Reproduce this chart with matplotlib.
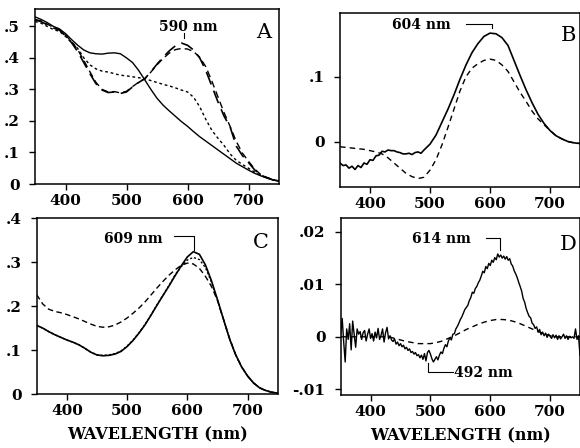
import numpy as np
import matplotlib
matplotlib.use("Agg")
import matplotlib.pyplot as plt

# ---------------- data ----------------
wl10 = list(range(350, 751, 10))

# Panel A
a_solid = [.530, .522, .512, .500, .492, .477, .458, .440, .425, .416, .413, .412, .415, .416, .413,
           .400, .385, .360, .330, .300, .272, .250, .232, .215, .198, .183, .166, .150, .136, .122,
           .108, .094, .080, .066, .055, .044, .034, .026, .019, .013, .008]
a_dot = [.515, .510, .500, .490, .484, .468, .450, .430, .400, .378, .365, .358, .355, .350, .345,
         .343, .340, .337, .334, .328, .322, .316, .311, .305, .298, .292, .275, .245, .205, .170,
         .145, .122, .095, .075, .062, .050, .038, .028, .020, .013, .010]
a_long = [.520, .515, .505, .495, .488, .470, .448, .420, .385, .350, .318, .298, .290, .292, .287,
          .292, .308, .322, .334, .356, .380, .402, .422, .438, .447, .440, .425, .400, .360, .310,
          .260, .215, .180, .120, .090, .068, .045, .028, .020, .013, .010]
a_med = [.522, .517, .507, .497, .489, .472, .452, .426, .392, .356, .322, .300, .292, .293, .289,
         .294, .309, .323, .334, .355, .378, .398, .415, .426, .430, .428, .420, .402, .372, .326,
         .276, .226, .182, .135, .098, .072, .048, .030, .021, .014, .010]

# Panel B
b_wl = [350, 355, 360, 365, 370, 375, 380, 385, 390, 395, 400, 405, 410, 415, 420, 425, 430, 435,
        440, 445, 450, 455, 460, 465, 470, 475, 480, 485, 490, 500, 510, 520, 530, 540, 550, 560,
        570, 580, 590, 600, 610, 620, 630, 640, 650, 660, 670, 680, 690, 700, 710, 720, 730, 740, 750]
b_solid = [-.033, -.037, -.036, -.041, -.038, -.043, -.037, -.040, -.033, -.035, -.028, -.029, -.022,
           -.021, -.015, -.016, -.013, -.014, -.014, -.016, -.017, -.019, -.019, -.018, -.020, -.017,
           -.016, -.018, -.013, -.004, .010, .030, .050, .072, .096, .118, .137, .151, .162, .167,
           .166, .160, .148, .125, .102, .080, .060, .042, .028, .017, .009, .004, .000, -.002, -.003]
b_dash = [-.008, -.009, -.010, -.011, -.012, -.014, -.016, -.019, -.025, -.033, -.041, -.049, -.054,
          -.057, -.055, -.044, -.028, -.005, .022, .050, .078, .100, .113, .120, .125, .127, .125,
          .118, .108, .092, .076, .062, .047, .035, .026, .017, .009, .004, .000, -.002, -.003]

# Panel C
c_solid = [.156, .150, .142, .135, .129, .123, .118, .112, .104, .095, .089, .087, .088, .091, .097,
           .108, .122, .139, .158, .180, .203, .225, .247, .270, .292, .312, .324, .318, .294, .258,
           .215, .170, .126, .090, .062, .041, .025, .014, .008, .004, .002]
c_dot = [.156, .150, .142, .135, .129, .123, .118, .112, .104, .095, .089, .088, .089, .092, .098,
         .109, .123, .140, .159, .181, .204, .226, .248, .272, .290, .305, .311, .306, .288, .255,
         .214, .170, .126, .090, .062, .041, .025, .014, .008, .004, .002]
c_dash = [.226, .205, .193, .188, .185, .181, .176, .171, .165, .159, .154, .152, .153, .157, .164,
          .173, .184, .196, .210, .226, .242, .257, .271, .283, .293, .298, .296, .286, .268, .245,
          .213, .170, .127, .090, .062, .041, .025, .014, .008, .004, .002]

# Panel D (solid sampled every 2.5 nm, values x 1e-3)
d_solid_milli = [
    0.5, 3.5, -1.0, -4.8, 1.5, -0.5, 2.5, -2.5, 3.0, 0.5,
    -2.0, 1.5, 0.5, 1.0, -0.5, 0.8, 1.2, -0.8, 0.5, 1.5,
    -0.3, 0.6, -0.8, 0.9, -0.2, 1.6, -0.5, 0.3, 1.5, -1.0,
    0.8, 1.8, -0.4, 0.2, -0.6, -0.9, -0.4, -1.4, -1.0, -1.7,
    -1.3, -1.9, -1.6, -2.3, -2.0, -2.6, -2.3, -3.0, -2.8, -3.3,
    -3.0, -3.6, -3.4, -4.0, -3.5, -4.3, -3.2, -4.6, -3.0, -2.6,
    -3.3, -4.2, -4.8, -4.3, -3.8, -4.4, -3.5, -2.9, -3.2, -2.2,
    -1.5, -1.9, -0.8, -0.2, -0.6, 0.5, 0.6, 1.5, 2.0, 2.6,
    3.3, 3.8, 4.5, 5.2, 5.6, 6.0, 6.9, 7.5, 8.5, 8.3,
    9.2, 9.6, 10.3, 10.8, 11.6, 12.5, 12.2, 13.4, 13.0, 14.0,
    13.6, 14.6, 14.2, 15.1, 14.7, 15.8, 15.2, 15.6, 15.0, 15.4,
    14.8, 15.3, 14.6, 14.9, 13.9, 13.5, 12.6, 12.0, 11.3, 10.4,
    9.6, 8.7, 7.3, 6.6, 5.4, 4.6, 3.9, 3.6, 2.6, 2.3,
    1.6, 1.9, 0.9, 1.4, 0.4, 0.9, 0.2, 0.7, -0.1, 0.5,
    0.1, -0.3, 0.4, -0.2, 0.3, -0.5, 0.2, -0.4, 0.0, 0.5,
    -0.3, 0.2, -0.5, 0.1, -0.2, 0.0, -0.3, 1.5, -0.5, 0.2,
    -3.5]
d_dash = [0, 0, 0, 0, 0, 0, 0, 0, 0, -.0003, -.0006, -.0009, -.0011, -.0013, -.0013, -.0013,
          -.0011, -.0008, -.0003, .0002, .0008, .0014, .0019, .0024, .0028, .0031, .0033, .0033,
          .0032, .0029, .0025, .0020, .0015, .0010, .0006, .0002, 0, 0, 0, 0, 0]

x_ticks = [400, 500, 600, 700]
x_ticklabels = ["400", "500", "600", "700"]
a_yticks = [0, .1, .2, .3, .4, .5]
a_ylabels = ["0", ".1", ".2", ".3", ".4", ".5"]
b_yticks = [0, .1]
b_ylabels = ["0", ".1"]
c_yticks = [0, .1, .2, .3, .4]
c_ylabels = ["0", ".1", ".2", ".3", ".4"]
d_yticks = [-.01, 0, .01, .02]
d_ylabels = ["-.01", "0", ".01", ".02"]

# ---------------- style ----------------
SERIF = ["DejaVu Serif"]
tick_font = dict(family=SERIF, weight="bold", size=11)
W, H = 580, 448
fig = plt.figure(figsize=(W / 100, H / 100), dpi=100)


def rect(l, t, r, b):
    return [l / W, 1 - b / H, (r - l) / W, (b - t) / H]


def setup(ax, ylim, yt, yl, letter, lx, ly, xlabel=False):
    ax.set_xlim(350, 750)
    ax.set_ylim(*ylim)
    ax.set_xticks(x_ticks)
    ax.set_xticklabels(x_ticklabels, **tick_font)
    ax.set_yticks(yt)
    ax.set_yticklabels(yl, **tick_font)
    ax.tick_params(direction="out", length=4, width=1, colors="black")
    ax.tick_params(axis="y", pad=7)
    ax.tick_params(axis="x", pad=3)
    for s in ax.spines.values():
        s.set_linewidth(1.1)
    ax.text(lx, ly, letter, transform=ax.transAxes, ha="right", va="center",
            family=SERIF, size=15)
    if xlabel:
        ax.set_xlabel("WAVELENGTH (nm)", family=SERIF, weight="bold", size=11.5, labelpad=6)


lw = 1.0
ann = dict(family=SERIF, weight="bold", size=10)

# A
axA = fig.add_axes(rect(35, 9, 279, 184))
wlA = np.array(wl10)
axA.plot(wlA, a_solid, color="k", lw=lw)
axA.plot(wlA, a_dot, color="k", lw=lw, ls=(0, (2, 2)))
axA.plot(wlA, a_long, color="k", lw=lw * 1.2, ls=(0, (8, 4)))
axA.plot(wlA, a_med, color="k", lw=lw, ls=(0, (5, 3)))
setup(axA, (0, 0.555), a_yticks, a_ylabels, "A", 0.967, 0.865)
axA.text(601, 0.498, "590 nm", ha="center", va="center", **ann)
axA.plot([594, 594], [0.478, 0.462], color="k", lw=0.8)

# B
axB = fig.add_axes(rect(340, 13, 580, 187))
axB.plot(b_wl, b_solid, color="k", lw=lw * 1.2)
axB.plot(wl10, b_dash, color="k", lw=lw, ls=(0, (4, 3)))
setup(axB, (-0.07, 0.198), b_yticks, b_ylabels, "B", 0.985, 0.87)
axB.text(485, 0.1795, "604 nm", ha="center", va="center", **ann)
axB.plot([560, 603, 603], [0.1806, 0.1806, 0.1745], color="k", lw=0.8)

# C
axC = fig.add_axes(rect(36.7, 218.3, 277.7, 394))
axC.plot(wl10, c_solid, color="k", lw=lw * 1.2)
axC.plot(wl10, c_dot, color="k", lw=lw, ls=(0, (1.5, 1.5)))
axC.plot(wl10, c_dash, color="k", lw=lw, ls=(0, (4, 2.5)))
setup(axC, (0, 0.4), c_yticks, c_ylabels, "C", 0.961, 0.865, xlabel=True)
axC.text(510, 0.354, "609 nm", ha="center", va="center", **ann)
axC.plot([578, 611, 611], [0.3595, 0.3595, 0.328], color="k", lw=0.8)

# D
axD = fig.add_axes(rect(340.7, 218.3, 580, 395))
d_wl = np.linspace(350, 750, len(d_solid_milli))
axD.plot(d_wl, np.array(d_solid_milli) / 1000.0, color="k", lw=lw)
axD.plot(wl10, d_dash, color="k", lw=lw, ls=(0, (4, 3)))
setup(axD, (-0.0111, 0.0226), d_yticks, d_ylabels, "D", 0.985, 0.85, xlabel=True)
axD.text(518, 0.01874, "614 nm", ha="center", va="center", **ann)
axD.plot([593, 617, 617], [0.01886, 0.01886, 0.0165], color="k", lw=0.8)
axD.text(540, -0.0069, "492 nm", ha="left", va="center", **ann)
axD.plot([496, 496, 537], [-0.0050, -0.0068, -0.0068], color="k", lw=0.8)

fig.savefig("out.png", dpi=100)
